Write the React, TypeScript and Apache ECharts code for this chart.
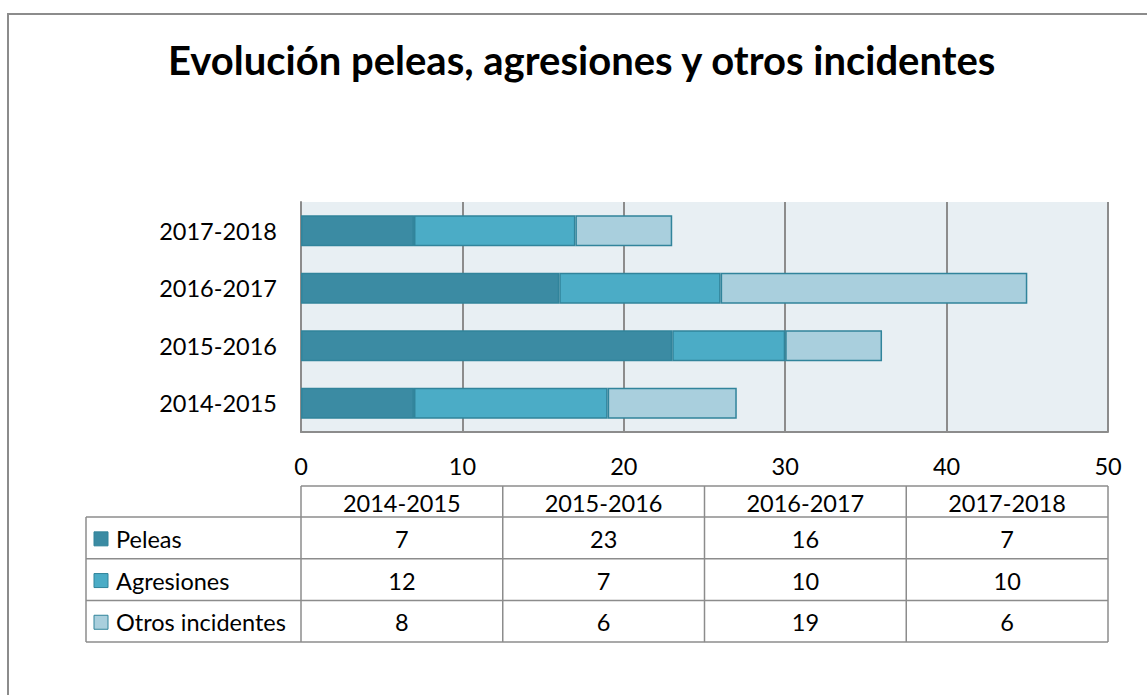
import React, { useEffect, useRef } from "react";
import * as echarts from "echarts";

const categories = ["2014-2015", "2015-2016", "2016-2017", "2017-2018"];
const seriesNames = ["Peleas", "Agresiones", "Otros incidentes"];
const peleas = [7, 23, 16, 7];
const agresiones = [12, 7, 10, 10];
const otros = [8, 6, 19, 6];
const colors = ["#3B8BA3", "#4BACC6", "#A9CFDD"];
const titleText = "Evolución peleas, agresiones y otros incidentes";

const FONT = "Lato, 'Open Sans', sans-serif";
const FS = 23.5;

export default function App() {
  const ref = useRef<HTMLDivElement>(null);
  useEffect(() => {
    document.body.style.margin = "0";
    if (!ref.current) return;
    const chart = echarts.init(ref.current, undefined, { renderer: "svg" });
    const gridLeft = 301;
    const gridRight = 1108;
    const gridTop = 202;
    const gridBottom = 432;
    const values = [peleas, agresiones, otros];

    // table layout
    const colW = (gridRight - gridLeft) / categories.length;
    const tableTop = 486;
    const headerBottom = 517;
    const rowH = 41.7;
    const tableLeft = 86;
    const lineColor = "#8C8C8C";
    const g: any[] = [];
    const lineStyle = { stroke: lineColor, lineWidth: 1.5 };
    const tableBottom = headerBottom + rowH * seriesNames.length;
    // outer border
    g.push({ type: "rect", shape: { x: 8, y: 14, width: 1300, height: 900 }, style: { fill: "none", stroke: "#8C8C8C", lineWidth: 2 }, silent: true });
    // horizontal lines
    g.push({ type: "line", shape: { x1: gridLeft, y1: tableTop, x2: gridRight, y2: tableTop }, style: lineStyle });
    for (let r = 0; r <= seriesNames.length; r++) {
      const y = headerBottom + r * rowH;
      g.push({ type: "line", shape: { x1: tableLeft, y1: y, x2: gridRight, y2: y }, style: lineStyle });
    }
    // vertical lines
    g.push({ type: "line", shape: { x1: tableLeft, y1: headerBottom, x2: tableLeft, y2: tableBottom }, style: lineStyle });
    for (let c = 0; c <= categories.length; c++) {
      const x = gridLeft + c * colW;
      g.push({ type: "line", shape: { x1: x, y1: tableTop, x2: x, y2: tableBottom }, style: lineStyle });
    }
    // header texts
    categories.forEach((cat, c) => {
      g.push({
        type: "text",
        x: gridLeft + (c + 0.5) * colW,
        y: (tableTop + headerBottom) / 2 + 1,
        style: { text: cat, fill: "#000", font: `${FS}px ${FONT}`, textAlign: "center", textVerticalAlign: "middle" },
      });
    });
    // rows
    seriesNames.forEach((name, r) => {
      const cy = headerBottom + (r + 0.5) * rowH + 1;
      g.push({
        type: "rect",
        shape: { x: 94, y: cy - 7, width: 14, height: 14 },
        style: { fill: colors[r], stroke: "#31849B", lineWidth: 1 },
      });
      g.push({
        type: "text",
        x: 116,
        y: cy,
        style: { text: name, fill: "#000", font: `${FS}px ${FONT}`, textAlign: "left", textVerticalAlign: "middle" },
      });
      values[r].forEach((v, c) => {
        g.push({
          type: "text",
          x: gridLeft + (c + 0.5) * colW,
          y: cy,
          style: { text: String(v), fill: "#000", font: `${FS}px ${FONT}`, textAlign: "center", textVerticalAlign: "middle" },
        });
      });
    });

    chart.setOption({
      animation: false,
      backgroundColor: "#fff",
      title: {
        text: titleText,
        left: 163,
        top: 35,
        textStyle: { fontFamily: FONT, fontWeight: "bold", fontSize: 40, color: "#000" },
      },
      grid: {
        left: gridLeft,
        top: gridTop,
        width: gridRight - gridLeft,
        height: gridBottom - gridTop,
        show: true,
        backgroundColor: "#E8EFF3",
        borderWidth: 0,
      },
      xAxis: {
        type: "value",
        min: 0,
        max: 50,
        interval: 10,
        axisLine: { show: true, lineStyle: { color: "#8C8C8C", width: 2 } },
        axisTick: { show: false },
        splitLine: { show: true, lineStyle: { color: "#8C8C8C", width: 2 } },
        axisLabel: { color: "#000", fontSize: FS, fontFamily: FONT, margin: 22 },
      },
      yAxis: {
        type: "category",
        data: categories,
        axisLine: { show: true, lineStyle: { color: "#8C8C8C", width: 2 } },
        axisTick: { show: false },
        axisLabel: { color: "#000", fontSize: FS, fontFamily: FONT, margin: 24 },
      },
      series: seriesNames.map((name, i) => ({
        name,
        type: "bar",
        stack: "total",
        data: values[i],
        barWidth: "54%",
        itemStyle: { color: colors[i], borderColor: "#31849B", borderWidth: 1.5 },
      })),
      graphic: g,
    });
    return () => chart.dispose();
  }, []);
  return <div ref={ref} style={{ width: 1147, height: 695 }} />;
}
